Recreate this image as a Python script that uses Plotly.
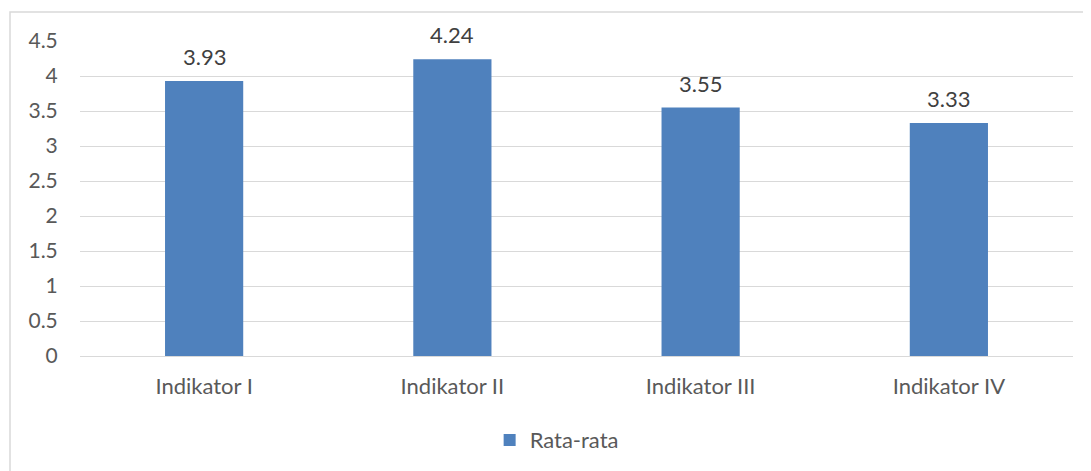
import plotly.graph_objects as go

categories = ["Indikator I", "Indikator II", "Indikator III", "Indikator IV"]
values = [3.93, 4.24, 3.55, 3.33]
labels = ["3.93", "4.24", "3.55", "3.33"]
series_name = "Rata-rata"
tick_vals = [0, 0.5, 1, 1.5, 2, 2.5, 3, 3.5, 4, 4.5]
tick_text = ["0", "0.5", "1", "1.5", "2", "2.5", "3", "3.5", "4", "4.5"]

FONT = "Lato, Open Sans, sans-serif"
GRAY = "#595959"
FS = 21

fig = go.Figure()
fig.add_trace(go.Bar(
    x=categories, y=values, name=series_name,
    marker=dict(color="#4F81BD", line=dict(width=0)),
    width=0.315,
))

for c, v, t in zip(categories, values, labels):
    fig.add_annotation(x=c, y=v, text=t, showarrow=False, yanchor="bottom", yshift=9,
                       font=dict(family=FONT, size=22, color="#404040"))

fig.update_layout(
    width=1083, height=463,
    margin=dict(l=72, r=18, t=33, b=115, autoexpand=False),
    paper_bgcolor="white", plot_bgcolor="white",
    font=dict(family=FONT, size=FS, color=GRAY),
    showlegend=True,
    legend=dict(orientation="h", x=0.48, xanchor="center", y=-0.267, yanchor="middle",
                font=dict(family=FONT, size=22, color=GRAY)),
    xaxis=dict(showgrid=False, showline=False, ticks="outside", ticklen=11, tickcolor="rgba(0,0,0,0)",
               tickfont=dict(size=22, color=GRAY)),
    yaxis=dict(range=[0, 4.5], tickvals=tick_vals, ticktext=tick_text,
               showgrid=True, gridcolor="#D9D9D9", gridwidth=1,
               zeroline=True, zerolinecolor="#D9D9D9", zerolinewidth=1,
               showline=False, ticks="outside", ticklen=17, tickcolor="rgba(0,0,0,0)",
               tickfont=dict(size=FS, color=GRAY)),
    shapes=[dict(type="rect", xref="paper", yref="paper",
                 x0=-0.0705, x1=1.2, y0=-0.6, y1=1.092,
                 line=dict(color="#D9D9D9", width=1.5), fillcolor="rgba(0,0,0,0)", layer="below")],
)

fig.write_html("out.html")
